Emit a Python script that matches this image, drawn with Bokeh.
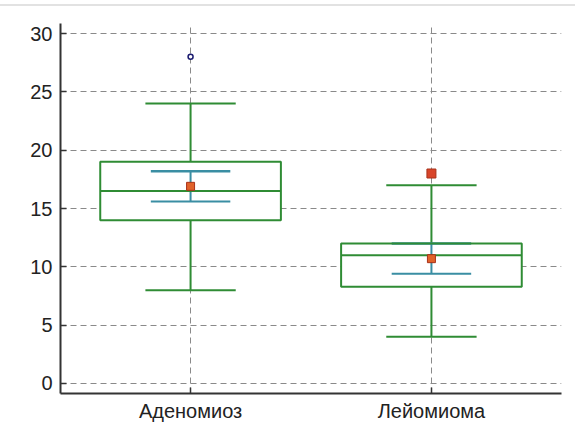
from bokeh.plotting import figure
from bokeh.models import ColumnDataSource, Range1d, FactorRange, FixedTicker, Spacer
from bokeh.layouts import column
from bokeh.transform import dodge
from bokeh.embed import file_html
from bokeh.resources import INLINE

# ---- data ----
categories = ["Аденомиоз", "Лейомиома"]
q1 = [14.0, 8.3]
median = [16.5, 11.0]
q3 = [19.0, 12.0]
whisker_lo = [8.0, 4.0]
whisker_hi = [24.0, 17.0]
mean = [16.9, 10.7]
ci_lo = [15.6, 9.4]
ci_hi = [18.2, 12.0]
outlier_circle_cat = ["Аденомиоз"]
outlier_circle_val = [28.0]
outlier_square_cat = ["Лейомиома"]
outlier_square_val = [18.0]
y_ticks = [0, 5, 10, 15, 20, 25, 30]

GREEN = "#2f8c34"
TEAL = "#3a8ea3"
GRID = "#8a8a8a"
FONT = "Liberation Sans"

src = ColumnDataSource(dict(cat=categories, q1=q1, med=median, q3=q3,
                            lo=whisker_lo, hi=whisker_hi, mean=mean,
                            ci_lo=ci_lo, ci_hi=ci_hi))

p = figure(width=566, height=422, output_backend="svg", toolbar_location=None,
           x_range=FactorRange(factors=categories, range_padding=0.04,
                               range_padding_units="absolute"),
           y_range=Range1d(-0.86, 30.86),
           min_border_left=60, min_border_top=17, min_border_bottom=35,
           min_border_right=5)
p.outline_line_color = None
p.background_fill_color = "white"
p.border_fill_color = "white"

# grid
for g in (p.xgrid, p.ygrid):
    g.grid_line_color = GRID
    g.grid_line_dash = "6 4"
    g.grid_line_width = 1
p.yaxis.ticker = FixedTicker(ticks=y_ticks)

# axes
for ax in (p.xaxis, p.yaxis):
    ax.axis_line_color = "#333333"
    ax.axis_line_width = 2
    ax.major_tick_line_color = "#333333"
    ax.major_tick_line_width = 1.5
    ax.major_tick_in = 6
    ax.major_tick_out = 0
    ax.minor_tick_line_color = None
    ax.major_label_text_font = FONT
    ax.major_label_text_font_size = "20px"
    ax.major_label_text_color = "#222222"
p.yaxis.major_label_standoff = 8
p.xaxis.major_label_standoff = 6

dx = lambda off: dodge("cat", off, range=p.x_range)

# whisker stems
p.segment(x0="cat", x1="cat", y0="q3", y1="hi", source=src, line_color=GREEN, line_width=2)
p.segment(x0="cat", x1="cat", y0="q1", y1="lo", source=src, line_color=GREEN, line_width=2)

# box fill
p.vbar(x="cat", width=0.75, bottom="q1", top="q3", source=src,
       fill_color="white", line_color=None)

# confidence interval for the mean
p.segment(x0="cat", x1="cat", y0="ci_lo", y1="ci_hi", source=src, line_color=TEAL, line_width=2)
p.segment(x0=dx(-0.165), x1=dx(0.165), y0="ci_lo", y1="ci_lo", source=src,
          line_color=TEAL, line_width=2)
p.segment(x0=dx(-0.165), x1=dx(0.165), y0="ci_hi", y1="ci_hi", source=src,
          line_color=TEAL, line_width=2.5)

# box outline and median
p.vbar(x="cat", width=0.75, bottom="q1", top="q3", source=src,
       fill_color=None, line_color=GREEN, line_width=2)
p.segment(x0=dx(-0.375), x1=dx(0.375), y0="med", y1="med", source=src,
          line_color=GREEN, line_width=2)

# whisker caps
p.segment(x0=dx(-0.1875), x1=dx(0.1875), y0="hi", y1="hi", source=src,
          line_color=GREEN, line_width=2)
p.segment(x0=dx(-0.1875), x1=dx(0.1875), y0="lo", y1="lo", source=src,
          line_color=GREEN, line_width=2)

# mean marker
p.scatter(x="cat", y="mean", source=src, marker="square", size=8,
          fill_color="#e0622a", line_color="#a8321a", line_width=1)

# outliers
p.scatter(x=outlier_circle_cat, y=outlier_circle_val, marker="circle", size=5,
          fill_color="white", line_color="#1c1c70", line_width=1.5)
p.scatter(x=outlier_square_cat, y=outlier_square_val, marker="square", size=9,
          fill_color="#d8452a", line_color="#a8321a", line_width=1)

top_gap = Spacer(width=575, height=4)
top_rule = Spacer(width=575, height=2, styles={"background-color": "#e2e2e2"})
layout = column(top_gap, top_rule, p, spacing=0)

open("out.html", "w").write(file_html(layout, INLINE))
